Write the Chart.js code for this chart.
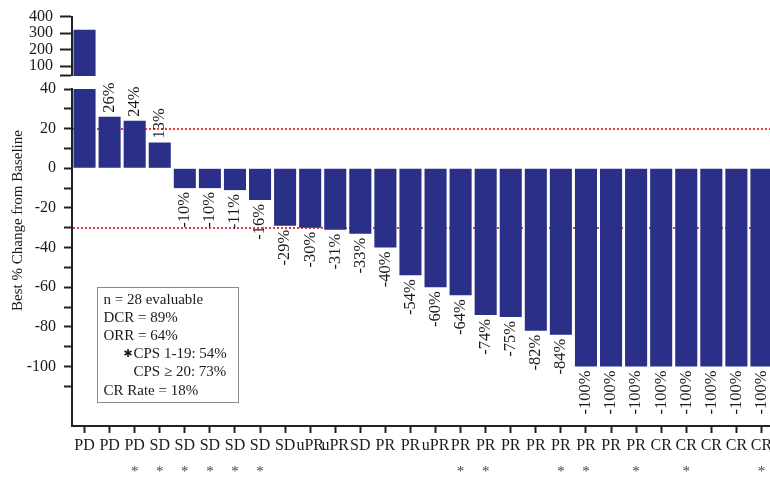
<!DOCTYPE html>
<html><head><meta charset="utf-8">
<script src="https://cdn.jsdelivr.net/npm/chart.js@4.4.0/dist/chart.umd.min.js"></script>
<style>
html,body{margin:0;padding:0;overflow:hidden;background:#fff;width:770px;height:481px}
canvas{position:absolute;left:0;top:0}
</style></head><body>
<canvas id="lower" width="790" height="481"></canvas>
<canvas id="upper" width="790" height="481"></canvas>
<script>
const categories = ['PD','PD','PD','SD','SD','SD','SD','SD','SD','uPR','uPR','SD','PR','PR','uPR','PR','PR','PR','PR','PR','PR','PR','PR','CR','CR','CR','CR','CR'];
const bestChange = [320,26,24,13,-10,-10,-11,-16,-29,-30,-31,-33,-40,-54,-60,-64,-74,-75,-82,-84,-100,-100,-100,-100,-100,-100,-100,-100];
const cpsMarked = [0,0,1,1,1,1,1,1,0,0,0,0,0,0,0,1,1,0,0,1,1,0,1,0,1,0,0,1];
const lowerTicks = [-100,-80,-60,-40,-20,0,20,40];
const upperTicks = [100,200,300,400];
const thresholds = [20,-30];
const summaryLines = ['n = 28 evaluable','DCR = 89%','ORR = 64%','✱CPS 1-19: 54%','CPS ≥ 20: 73%','CR Rate = 18%'];
const axisTitle = 'Best % Change from Baseline';

const serif = "'Liberation Serif','Times New Roman',serif";
Chart.defaults.font.family = serif;
Chart.defaults.font.size = 15;
Chart.defaults.color = '#1a1a1a';
const navy = '#2a2f88';
const ink = '#222';
const Y_W = 72;
const LOWER_MAX = 40, LOWER_MIN = -130, UPPER_MAX = 400;

const thresholdPlugin = {
  id:'thresholds',
  beforeDatasetsDraw(chart){
    const {ctx, chartArea, scales:{y}} = chart;
    ctx.save();
    ctx.strokeStyle = '#e23a46';
    ctx.lineWidth = 2;
    ctx.setLineDash([2,2]);
    thresholds.forEach(t=>{
      const py = Math.round(y.getPixelForValue(t));
      ctx.beginPath();
      ctx.moveTo(chartArea.left+1, py);
      ctx.lineTo(chartArea.right+20, py);
      ctx.stroke();
    });
    ctx.restore();
  }
};

const labelPlugin = {
  id:'valueLabels',
  afterDatasetsDraw(chart){
    const {ctx} = chart;
    const meta = chart.getDatasetMeta(0);
    ctx.save();
    ctx.font = '16.5px ' + serif;
    ctx.fillStyle = '#1a1a1a';
    ctx.textBaseline = 'middle';
    meta.data.forEach((bar,i)=>{
      const v = bestChange[i];
      if (v > LOWER_MAX) return;
      const txt = v + '%';
      ctx.save();
      if (v >= 0) {
        ctx.translate(bar.x, bar.y - 4);
        ctx.rotate(-Math.PI/2);
        ctx.textAlign = 'left';
      } else {
        ctx.translate(bar.x, bar.y + 4);
        ctx.rotate(-Math.PI/2);
        ctx.textAlign = 'right';
      }
      ctx.fillText(txt, 0, 0);
      ctx.restore();
    });
    ctx.font = '15px ' + serif;
    ctx.fillStyle = '#444';
    ctx.textAlign = 'center';
    ctx.textBaseline = 'alphabetic';
    const xs = chart.scales.x;
    cpsMarked.forEach((m,i)=>{
      if (!m) return;
      ctx.fillText('*', xs.getPixelForValue(i), chart.chartArea.bottom + 50);
    });
    ctx.restore();
  }
};

const annotPlugin = {
  id:'annot',
  afterDraw(chart){
    const {ctx, chartArea} = chart;
    ctx.save();
    ctx.font = '15px ' + serif;
    ctx.fillStyle = '#1a1a1a';
    ctx.textAlign = 'center';
    ctx.textBaseline = 'middle';
    ctx.translate(18, (15 + chartArea.bottom)/2);
    ctx.rotate(-Math.PI/2);
    ctx.fillText(axisTitle, 0, 0);
    ctx.restore();

    ctx.save();
    const bx = chartArea.left + 25.5, by = chartArea.top + 198.5, bw = 141, bh = 115;
    ctx.strokeStyle = '#8a8a8a';
    ctx.lineWidth = 1;
    ctx.strokeRect(bx, by, bw, bh);
    ctx.font = '15px ' + serif;
    ctx.fillStyle = '#1a1a1a';
    ctx.textBaseline = 'alphabetic';
    ctx.textAlign = 'left';
    summaryLines.forEach((line,i)=>{
      const ty = by + 16 + i*18.2;
      let tx = bx + 6;
      let text = line;
      if (line.startsWith('✱')) {
        text = line.slice(1);
        ctx.save();
        ctx.font = '11px DejaVu Sans';
        ctx.textAlign = 'right';
        ctx.fillText('✱', bx + 35, ty - 1);
        ctx.restore();
      }
      if (text.startsWith('CPS')) tx = bx + 36;
      ctx.fillText(text, tx, ty);
    });
    ctx.restore();
  }
};

new Chart(document.getElementById('lower'), {
  type:'bar',
  data:{labels:categories, datasets:[{data:bestChange, backgroundColor:navy, barPercentage:0.88, categoryPercentage:1}]},
  options:{
    responsive:false, animation:false, events:[],
    layout:{padding:{top:89,right:16,bottom:0,left:0}},
    plugins:{legend:{display:false}, tooltip:{enabled:false}},
    scales:{
      x:{
        grid:{display:true, drawOnChartArea:false, offset:false, tickLength:7, tickColor:ink, tickWidth:2},
        border:{display:true, color:ink, width:2},
        ticks:{maxRotation:0, minRotation:0, autoSkip:false, padding:3, color:'#1a1a1a', font:{size:16}},
        afterFit(s){ s.height = 55; }
      },
      y:{
        min:LOWER_MIN, max:LOWER_MAX,
        afterBuildTicks(s){ const t=[]; for(let v=-110; v<=LOWER_MAX; v+=10) t.push({value:v}); s.ticks=t; },
        ticks:{autoSkip:false, callback:v=> lowerTicks.includes(v) ? String(v) : '', padding:8, color:'#1a1a1a', font:{size:16}},
        grid:{drawOnChartArea:false, tickLength:8, tickColor:ink, tickWidth:2},
        border:{color:ink, width:2},
        afterFit(s){ s.width = Y_W; }
      }
    }
  },
  plugins:[thresholdPlugin, labelPlugin, annotPlugin]
});

new Chart(document.getElementById('upper'), {
  type:'bar',
  data:{labels:categories, datasets:[{data:bestChange.map(v=> v > LOWER_MAX ? v : null), backgroundColor:navy, barPercentage:0.88, categoryPercentage:1}]},
  options:{
    responsive:false, animation:false, events:[],
    layout:{padding:{top:15,right:16,bottom:405,left:0}},
    plugins:{legend:{display:false}, tooltip:{enabled:false}},
    scales:{
      x:{display:false},
      y:{
        min:LOWER_MAX, max:UPPER_MAX,
        afterBuildTicks(s){ s.ticks = [{value:LOWER_MAX}].concat(upperTicks.map(v=>({value:v}))); },
        ticks:{autoSkip:false, callback:v=> upperTicks.includes(v) ? String(v) : '', padding:7, color:'#1a1a1a', font:{size:16}},
        grid:{drawOnChartArea:false, tickLength:12, tickColor:ink, tickWidth:2},
        border:{color:ink, width:2},
        afterFit(s){ s.width = Y_W; }
      }
    }
  }
});
</script>
</body></html>
